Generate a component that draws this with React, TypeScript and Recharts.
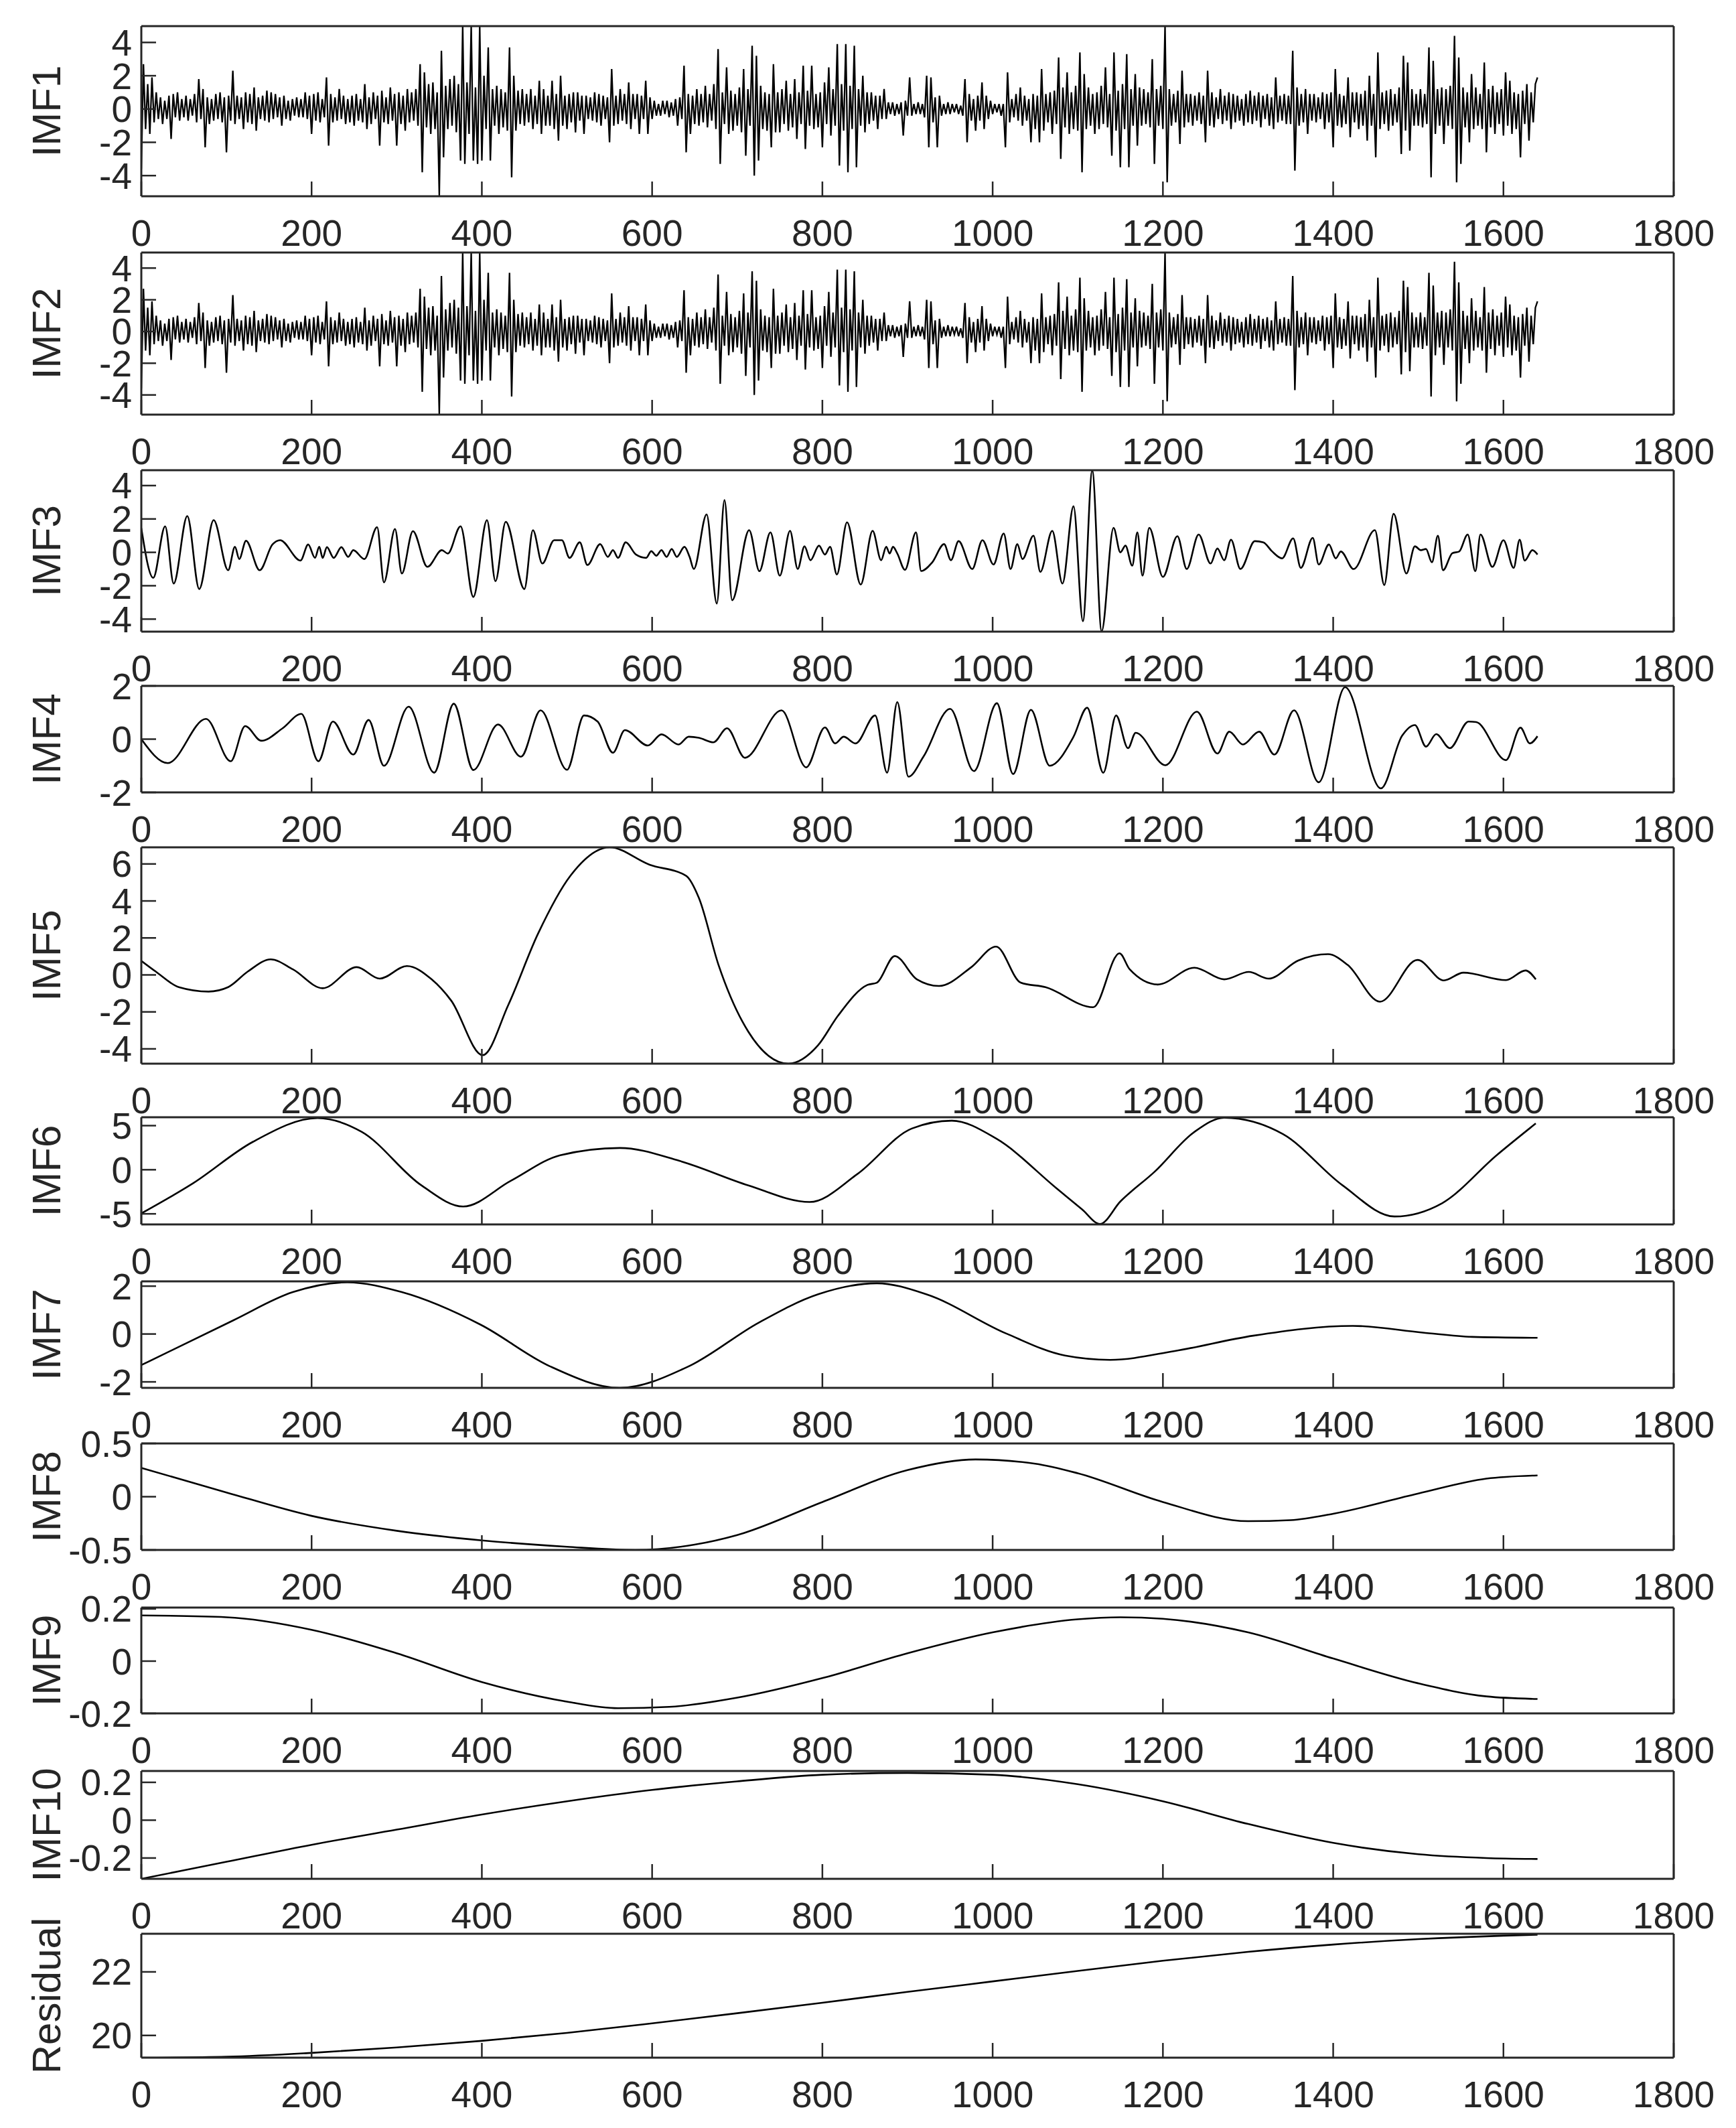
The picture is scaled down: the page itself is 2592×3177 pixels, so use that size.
import { LineChart, Line, XAxis, YAxis } from 'recharts'

// sample index axis shared by every panel
const xTicks = [0, 200, 400, 600, 800, 1000, 1200, 1400, 1600, 1800]

// IMF1: one value every 2.5 samples (0..1640), 20 values per line = 50 samples
const imf1 = [
  -3.6, 2.7, -1.2, 1.5, -1.5, 1.9, -0.8, 1.0, -0.6, 0.7, -0.9, 0.5, -0.6, 0.8, -1.8, 0.9, -0.5, 1.0, -0.7, 0.6,
  -0.5, 0.8, -0.7, 0.6, -0.4, 0.9, -0.8, 1.8, -0.6, 1.2, -2.3, 0.7, -0.9, 0.6, -0.7, 0.9, -0.6, 1.0, -0.8, 0.7,
  -2.6, 0.8, -0.7, 2.3, -0.9, 0.8, -0.6, 0.7, -1.2, 1.0, -0.8, 0.9, -0.9, 1.3, -1.3, 0.7, -0.6, 0.8, -0.7, 1.1,
  -0.8, 1.0, -0.6, 0.9, -0.5, 0.7, -1.0, 0.8, -0.6, 0.5, -0.7, 0.6, -0.4, 0.7, -0.5, 0.6, -0.5, 1.0, -0.6, 0.8,
  -1.5, 0.9, -0.7, 1.0, -0.8, 0.6, -0.5, 1.9, -2.2, 0.9, -0.8, 0.7, -0.7, 1.2, -0.6, 0.8, -0.9, 0.6, -0.8, 0.8,
  -1.0, 0.9, -0.7, 0.6, -0.8, 1.5, -1.2, 0.7, -0.9, 1.0, -0.6, 0.8, -2.2, 1.1, -0.8, 0.7, -0.9, 1.3, -0.7, 0.9,
  -2.2, 1.0, -0.9, 0.8, -1.3, 1.2, -0.8, 1.0, -0.7, 1.2, -1.0, 2.7, -3.8, 2.2, -1.1, 1.5, -1.5, 1.6, -1.2, 1.0,
  -5.2, 3.5, -2.9, 1.4, -1.2, 1.8, -1.0, 2.0, -1.4, 1.5, -3.1, 5.0, -3.3, 1.6, -1.5, 5.0, -3.1, 1.3, -3.3, 5.0,
  -3.1, 2.0, -1.2, 3.7, -3.1, 1.2, -1.0, 1.4, -1.5, 1.2, -1.1, 1.0, -1.3, 3.7, -4.1, 2.0, -1.3, 1.1, -0.9, 1.2,
  -1.0, 0.9, -0.8, 1.2, -1.2, 0.8, -0.9, 1.7, -1.5, 1.2, -1.0, 0.8, -1.0, 1.7, -1.2, 0.9, -1.9, 2.0, -1.0, 0.8,
  -1.2, 0.9, -0.8, 1.0, -1.4, 1.0, -0.7, 0.8, -1.5, 0.8, -0.6, 0.7, -0.7, 1.0, -0.8, 0.9, -1.0, 0.8, -0.6, 0.7,
  -2.0, 2.4, -1.0, 0.8, -0.9, 1.2, -0.7, 0.9, -0.9, 1.6, -1.2, 0.9, -0.6, 0.9, -1.5, 0.8, -0.6, 1.7, -1.5, 0.7,
  -0.6, 0.5, -0.4, 0.3, -0.4, 0.5, -0.3, 0.5, -0.5, 0.4, -0.4, 0.6, -1.0, 0.7, -0.6, 2.6, -2.6, 0.9, -1.5, 0.8,
  -0.9, 1.2, -1.0, 0.9, -0.8, 1.4, -1.1, 0.9, -0.7, 1.5, -1.2, 3.6, -3.3, 1.0, -0.9, 2.5, -1.5, 1.1, -1.3, 0.9,
  -1.0, 1.3, -1.4, 2.4, -2.8, 1.2, -1.0, 3.8, -4.0, 3.2, -3.1, 1.4, -1.2, 1.0, -1.3, 0.9, -2.3, 2.7, -1.4, 1.0,
  -1.4, 1.2, -0.9, 1.7, -1.3, 0.9, -1.1, 1.8, -1.8, 1.0, -0.9, 2.6, -2.4, 1.1, -1.0, 2.6, -1.2, 0.9, -1.1, 1.0,
  -2.3, 1.6, -0.9, 2.5, -1.6, 1.2, -1.0, 3.9, -3.4, 1.5, -1.3, 3.9, -3.8, 1.4, -1.2, 3.8, -3.5, 1.2, -1.0, 2.0,
  -1.4, 1.0, -0.9, 1.0, -0.7, 0.8, -1.2, 0.8, -0.6, 1.2, -0.6, 0.4, -0.3, 0.4, -0.4, 0.3, -0.3, 0.4, -1.6, 0.5,
  -0.4, 1.9, -0.4, 0.3, -0.3, 0.4, -0.3, 0.3, -0.5, 2.0, -2.3, 1.9, -0.8, 0.7, -2.3, 0.8, -0.4, 0.3, -0.3, 0.4,
  -0.3, 0.3, -0.2, 0.3, -0.3, 0.2, -0.4, 1.8, -2.0, 0.9, -0.7, 0.6, -1.3, 0.8, -0.7, 1.6, -1.2, 0.8, -0.6, 0.5,
  -0.3, 0.3, -0.2, 0.3, -0.4, 0.3, -2.3, 2.2, -0.8, 0.6, -0.5, 0.9, -0.7, 1.3, -1.0, 0.8, -0.7, 0.6, -2.0, 0.9,
  -1.2, 0.8, -2.0, 2.4, -1.3, 0.9, -0.8, 1.0, -1.5, 1.1, -0.9, 3.1, -3.0, 1.3, -1.1, 2.2, -1.5, 1.0, -1.2, 1.4,
  -1.3, 3.4, -3.8, 2.1, -1.2, 1.3, -1.0, 0.9, -1.5, 1.0, -1.2, 1.4, -0.9, 2.5, -1.1, 0.9, -2.8, 3.4, -1.3, 1.1,
  -3.5, 1.5, -1.2, 3.3, -3.5, 1.2, -1.0, 2.1, -2.2, 1.3, -1.0, 1.2, -0.9, 1.0, -1.1, 3.0, -3.3, 1.2, -1.0, 1.4,
  -1.2, 5.0, -4.4, 1.2, -1.0, 0.9, -0.8, 1.1, -2.1, 2.3, -1.1, 0.9, -0.8, 0.9, -1.0, 0.8, -0.7, 1.0, -0.9, 0.8,
  -2.0, 2.3, -1.0, 1.0, -1.1, 0.7, -0.6, 1.2, -0.9, 0.8, -0.7, 1.0, -1.2, 0.9, -0.8, 0.8, -0.7, 0.6, -1.0, 0.9,
  -0.8, 1.1, -0.9, 0.8, -0.7, 1.0, -1.1, 0.8, -0.6, 0.9, -1.0, 0.7, -1.2, 1.9, -0.8, 0.8, -0.7, 0.9, -0.9, 0.8,
  -0.9, 3.5, -3.7, 1.3, -1.0, 0.9, -0.8, 1.2, -1.5, 0.9, -0.7, 0.9, -0.8, 0.7, -0.6, 1.0, -1.2, 0.9, -0.8, 1.0,
  -2.3, 2.4, -1.0, 0.9, -1.1, 0.8, -0.9, 1.9, -1.7, 1.0, -0.8, 1.0, -1.2, 0.9, -1.0, 1.1, -1.9, 2.0, -1.0, 0.9,
  -2.9, 3.4, -1.2, 1.0, -0.9, 1.1, -1.3, 1.2, -1.0, 0.9, -0.8, 1.3, -2.7, 3.2, -1.3, 2.8, -2.5, 1.2, -1.0, 0.9,
  -1.0, 1.2, -1.1, 0.9, -0.9, 3.7, -4.1, 2.9, -1.5, 1.2, -1.0, 1.3, -2.1, 1.2, -1.0, 1.4, -1.2, 4.4, -4.4, 3.1,
  -3.3, 1.3, -1.1, 1.0, -2.0, 2.1, -1.2, 1.3, -1.0, 0.9, -1.2, 2.8, -2.6, 1.2, -1.1, 1.4, -1.5, 1.0, -0.9, 1.2,
  -1.6, 2.2, -1.0, 1.7, -1.5, 1.0, -1.2, 0.9, -2.9, 1.1, -0.9, 1.5, -1.9, 1.0, -0.8, 1.5, 1.9,
]
// IMF2 is drawn as the same trace as IMF1 in the figure
const imf2 = [...imf1]

// smoother modes: [sample, value] at turning points
const imf3 = [
  [0, 1.45], [14, -1.53], [28, 1.56], [38, -1.87], [54, 2.17], [68, -2.2], [85, 1.93], [102, -1.07],
  [110, 0.33], [115, -0.4], [123, 0.69], [139, -1.07], [154, 0.47], [163, 0.73], [187, -0.49], [196, 0.47],
  [204, -0.33], [209, 0.33], [213, -0.33], [218, 0.31], [226, -0.33], [235, 0.31], [243, -0.27], [249, 0.13],
  [262, -0.4], [277, 1.51], [285, -1.8], [298, 1.4], [306, -1.27], [319, 1.27], [336, -0.87], [353, 0.13],
  [360, -0.07], [375, 1.56], [390, -2.67], [406, 1.93], [416, -1.73], [428, 1.83], [450, -2.2], [460, 1.33],
  [471, -0.67], [485, 0.73], [494, 0.73], [503, -0.33], [515, 0.6], [524, -0.76], [539, 0.49], [548, -0.27],
  [554, 0.13], [560, -0.33], [569, 0.6], [581, -0.13], [593, -0.33], [599, 0.07], [605, -0.2], [611, 0.13],
  [617, -0.27], [623, 0.2], [629, -0.27], [638, 0.33], [644, -0.27], [649, -1.0], [664, 2.27], [676, -3.07],
  [685, 3.13], [694, -2.87], [714, 1.33], [726, -1.13], [739, 1.2], [750, -1.4], [762, 1.29], [771, -1.0],
  [779, 0.36], [786, -0.47], [796, 0.4], [803, -0.13], [809, 0.33], [817, -1.33], [829, 1.8], [845, -1.93],
  [859, 1.29], [869, -0.47], [875, 0.33], [879, -0.07], [883, 0.33], [888, -0.07], [897, -1.05], [910, 1.2],
  [916, -1.12], [929, -0.6], [943, 0.49], [951, -0.47], [960, 0.67], [976, -1.0], [988, 0.73], [1001, -0.73],
  [1013, 1.13], [1021, -1.0], [1029, 0.49], [1035, -0.4], [1048, 1.0], [1056, -1.17], [1070, 1.29], [1082, -1.87],
  [1095, 2.76], [1106, -4.13], [1117, 4.9], [1128, -4.73], [1142, 1.47], [1150, 0.0], [1156, 0.4], [1164, -0.8],
  [1170, 1.2], [1176, -1.4], [1184, 1.47], [1200, -1.47], [1217, 0.97], [1228, -1.0], [1242, 1.07], [1256, -0.67],
  [1264, 0.23], [1272, -0.47], [1280, 0.76], [1291, -1.0], [1308, 0.67], [1318, 0.6], [1328, 0.07], [1340, -0.36],
  [1353, 0.84], [1362, -0.93], [1376, 0.87], [1383, -0.73], [1395, 0.47], [1403, -0.36], [1409, 0.05], [1424, -1.0],
  [1449, 1.33], [1460, -1.96], [1471, 2.31], [1486, -1.27], [1496, 0.36], [1503, 0.13], [1509, 0.2], [1516, -0.6],
  [1523, 1.0], [1529, -1.07], [1540, -0.05], [1548, 0.05], [1558, 1.07], [1567, -1.13], [1573, 1.07], [1587, -0.87],
  [1600, 0.73], [1612, -0.93], [1619, 0.76], [1625, -0.49], [1634, 0.13], [1640, -0.13],
]

const imf4 = [
  [0, 0], [31, -0.9], [76, 0.76], [105, -0.83], [122, 0.49], [141, -0.06], [166, 0.41], [188, 0.95],
  [208, -0.83], [225, 0.66], [249, -0.58], [267, 0.72], [285, -1.0], [314, 1.22], [344, -1.26], [367, 1.33],
  [390, -1.16], [419, 0.55], [446, -0.66], [469, 1.08], [500, -1.15], [520, 0.89], [536, 0.66], [554, -0.51],
  [568, 0.34], [595, -0.24], [611, 0.18], [631, -0.2], [643, 0.09], [655, 0.05], [672, -0.12], [688, 0.41],
  [709, -0.7], [752, 1.08], [781, -1.06], [803, 0.44], [815, -0.16], [825, 0.09], [839, -0.16], [862, 0.89],
  [876, -1.26], [888, 1.39], [901, -1.41], [919, -0.64], [950, 1.14], [978, -1.2], [1005, 1.35], [1024, -1.31],
  [1045, 1.1], [1067, -1.0], [1095, 0.09], [1111, 1.18], [1130, -1.26], [1145, 0.89], [1159, -0.34], [1168, 0.24],
  [1203, -0.98], [1240, 1.03], [1264, -0.54], [1278, 0.28], [1294, -0.2], [1313, 0.28], [1331, -0.58], [1354, 1.08],
  [1383, -1.62], [1414, 1.95], [1456, -1.85], [1481, 0.13], [1496, 0.53], [1509, -0.28], [1521, 0.19], [1537, -0.34],
  [1559, 0.66], [1568, 0.64], [1603, -0.79], [1620, 0.43], [1631, -0.16], [1640, 0.11],
]

const imf5 = [
  [0, 0.76], [17, 0.18], [44, -0.66], [79, -0.9], [102, -0.66], [125, 0.18], [152, 0.84], [178, 0.3],
  [213, -0.72], [253, 0.42], [280, -0.2], [312, 0.48], [341, -0.24], [364, -1.39], [401, -4.34], [431, -1.63],
  [466, 2.23], [504, 5.36], [550, 6.9], [597, 5.96], [640, 5.36], [655, 4.16], [678, 0.54], [713, -3.07],
  [760, -4.8], [795, -3.8], [818, -2.23], [853, -0.54], [864, -0.42], [885, 1.02], [911, -0.24], [937, -0.6],
  [975, 0.42], [1004, 1.53], [1033, -0.42], [1062, -0.66], [1118, -1.75], [1149, 1.17], [1161, 0.3], [1194, -0.52],
  [1237, 0.39], [1272, -0.24], [1301, 0.16], [1324, -0.2], [1359, 0.78], [1394, 1.12], [1417, 0.54], [1455, -1.45],
  [1499, 0.81], [1530, -0.3], [1553, 0.12], [1603, -0.28], [1626, 0.24], [1638, -0.24],
]

const imf6 = [
  [0, -4.95], [61, -1.52], [131, 3.16], [207, 5.85], [259, 4.29], [329, -1.77], [378, -4.17], [434, -1.26],
  [492, 1.64], [562, 2.47], [632, 1.01], [713, -1.77], [785, -3.66], [841, -0.5], [905, 4.67], [952, 5.56],
  [1004, 3.54], [1074, -2.02], [1105, -4.5], [1126, -6.15], [1150, -3.6], [1190, -0.25], [1237, 4.29], [1272, 5.9],
  [1341, 4.04], [1411, -1.77], [1472, -5.3], [1528, -3.79], [1592, 1.64], [1638, 5.25],
]

const imf7 = [
  [0, -1.3], [108, 0.57], [178, 1.75], [242, 2.16], [306, 1.75], [399, 0.38], [480, -1.35], [562, -2.25],
  [643, -1.35], [725, 0.47], [795, 1.66], [864, 2.12], [922, 1.66], [1016, 0.02], [1085, -0.9], [1138, -1.08],
  [1214, -0.71], [1306, -0.07], [1423, 0.34], [1505, 0.06], [1563, -0.12], [1640, -0.16],
]

const imf8 = [
  [0, 0.27], [100, 0.04], [200, -0.18], [300, -0.32], [400, -0.41], [500, -0.47], [580, -0.5], [650, -0.45],
  [700, -0.36], [800, -0.05], [900, 0.25], [980, 0.35], [1050, 0.31], [1100, 0.22], [1200, -0.05], [1300, -0.23],
  [1350, -0.22], [1400, -0.16], [1500, 0.03], [1580, 0.17], [1640, 0.2],
]

const imf9 = [
  [0, 0.175], [100, 0.168], [200, 0.12], [300, 0.03], [400, -0.08], [500, -0.155], [560, -0.18], [620, -0.175],
  [700, -0.14], [800, -0.065], [900, 0.03], [1000, 0.11], [1100, 0.16], [1150, 0.168], [1200, 0.162], [1300, 0.11],
  [1400, 0.01], [1500, -0.085], [1580, -0.135], [1640, -0.145],
]

const imf10 = [
  [0, -0.31], [100, -0.22], [200, -0.13], [300, -0.05], [400, 0.03], [500, 0.1], [600, 0.16], [700, 0.205],
  [800, 0.24], [900, 0.25], [1000, 0.24], [1100, 0.19], [1200, 0.1], [1300, -0.02], [1400, -0.12], [1500, -0.18],
  [1580, -0.2], [1640, -0.205],
]

const residual = [
  [0, 19.3], [100, 19.33], [200, 19.45], [300, 19.62], [400, 19.83], [500, 20.08], [600, 20.38], [700, 20.7],
  [800, 21.03], [900, 21.37], [1000, 21.7], [1100, 22.03], [1200, 22.35], [1300, 22.63], [1400, 22.86], [1500, 23.03],
  [1600, 23.14], [1640, 23.17],
]

const W = 2592
const H = 3177
const PLOT_LEFT = 211
const PLOT_RIGHT = 2499
const PAD_TOP = 30
const AXIS_H = 100
const FONT = 'Liberation Sans, Arial, Helvetica, sans-serif'
const INK = '#262626'

const stepRows = (vals: number[], step: number) => vals.map((y, i) => ({ x: i * step, y }))
const pairRows = (pts: number[][]) => pts.map(([x, y]) => ({ x, y }))

type PanelDef = {
  label: string
  rows: { x: number; y: number }[]
  top: number
  bottom: number
  domain: [number, number]
  ticks: number[]
  curve: 'linear' | 'monotone'
  width: number
}

const panels: PanelDef[] = [
  { label: 'IMF1', rows: stepRows(imf1, 2.5), top: 39, bottom: 293, domain: [-5.24, 4.98], ticks: [-4, -2, 0, 2, 4], curve: 'linear', width: 2.3 },
  { label: 'IMF2', rows: stepRows(imf2, 2.5), top: 377, bottom: 619, domain: [-5.24, 4.98], ticks: [-4, -2, 0, 2, 4], curve: 'linear', width: 2.3 },
  { label: 'IMF3', rows: pairRows(imf3), top: 702, bottom: 943, domain: [-4.75, 4.92], ticks: [-4, -2, 0, 2, 4], curve: 'monotone', width: 2.6 },
  { label: 'IMF4', rows: pairRows(imf4), top: 1024, bottom: 1183, domain: [-2, 2], ticks: [-2, 0, 2], curve: 'monotone', width: 2.6 },
  { label: 'IMF5', rows: pairRows(imf5), top: 1265, bottom: 1588, domain: [-4.8, 6.9], ticks: [-4, -2, 0, 2, 4, 6], curve: 'monotone', width: 2.6 },
  { label: 'IMF6', rows: pairRows(imf6), top: 1668, bottom: 1828, domain: [-6.2, 5.95], ticks: [-5, 0, 5], curve: 'monotone', width: 2.6 },
  { label: 'IMF7', rows: pairRows(imf7), top: 1913, bottom: 2072, domain: [-2.25, 2.2], ticks: [-2, 0, 2], curve: 'monotone', width: 2.6 },
  { label: 'IMF8', rows: pairRows(imf8), top: 2155, bottom: 2314, domain: [-0.5, 0.5], ticks: [-0.5, 0, 0.5], curve: 'monotone', width: 2.6 },
  { label: 'IMF9', rows: pairRows(imf9), top: 2400, bottom: 2558, domain: [-0.2, 0.205], ticks: [-0.2, 0, 0.2], curve: 'monotone', width: 2.6 },
  { label: 'IMF10', rows: pairRows(imf10), top: 2644, bottom: 2805, domain: [-0.31, 0.26], ticks: [-0.2, 0, 0.2], curve: 'monotone', width: 2.6 },
  { label: 'Residual', rows: pairRows(residual), top: 2887, bottom: 3072, domain: [19.3, 23.2], ticks: [20, 22], curve: 'monotone', width: 2.6 },
]

const axisLine = { stroke: INK, strokeWidth: 3 }
const tickLine = { stroke: INK, strokeWidth: 2.5 }
const tickText = { fontSize: 55, fill: INK, fontFamily: FONT }

function Panel({ p }: { p: PanelDef }) {
  const h = PAD_TOP + (p.bottom - p.top) + AXIS_H
  return (
    <div style={{ position: 'absolute', left: 0, top: p.top - PAD_TOP, width: W, height: h }}>
      <LineChart
        width={W} height={h} data={p.rows}
        margin={{ top: PAD_TOP - 1, right: W - PLOT_RIGHT - 1, bottom: 0, left: 0 }}
      >
        <XAxis
          xAxisId="b" dataKey="x" type="number" domain={[0, 1800]} ticks={xTicks} interval={0}
          allowDataOverflow height={AXIS_H} tickSize={-22} tickMargin={57}
          axisLine={axisLine} tickLine={tickLine} tick={tickText}
        />
        <XAxis
          xAxisId="t" orientation="top" type="number" domain={[0, 1800]} ticks={xTicks} interval={0}
          allowDataOverflow height={1} tickSize={-22} axisLine={axisLine} tickLine={tickLine} tick={false}
        />
        <YAxis
          yAxisId="l" type="number" domain={p.domain} ticks={p.ticks} interval={0}
          allowDataOverflow width={PLOT_LEFT} tickSize={-22} tickMargin={36}
          axisLine={axisLine} tickLine={tickLine} tick={tickText}
        />
        <YAxis
          yAxisId="r" orientation="right" type="number" domain={p.domain} ticks={p.ticks} interval={0}
          allowDataOverflow width={1} tickSize={-22} axisLine={axisLine} tickLine={tickLine} tick={false}
        />
        <Line
          xAxisId="b" yAxisId="l" dataKey="y" type={p.curve} stroke="#000" strokeWidth={p.width}
          dot={false} activeDot={false} isAnimationActive={false}
        />
      </LineChart>
    </div>
  )
}

export default function App() {
  return (
    <div style={{ position: 'absolute', left: 0, top: 0, width: W, height: H, background: '#fff', overflow: 'hidden' }}>
      {panels.map((p) => (
        <Panel key={p.label} p={p} />
      ))}
      <svg width={W} height={H} style={{ position: 'absolute', left: 0, top: 0, pointerEvents: 'none' }}>
        {panels.map((p) => {
          const cy = (p.top + p.bottom) / 2
          return (
            <text
              key={p.label} x={90} y={cy} transform={`rotate(-90 90 ${cy})`} textAnchor="middle"
              fontSize={60} fontFamily={FONT} fill={INK}
            >
              {p.label}
            </text>
          )
        })}
      </svg>
    </div>
  )
}
